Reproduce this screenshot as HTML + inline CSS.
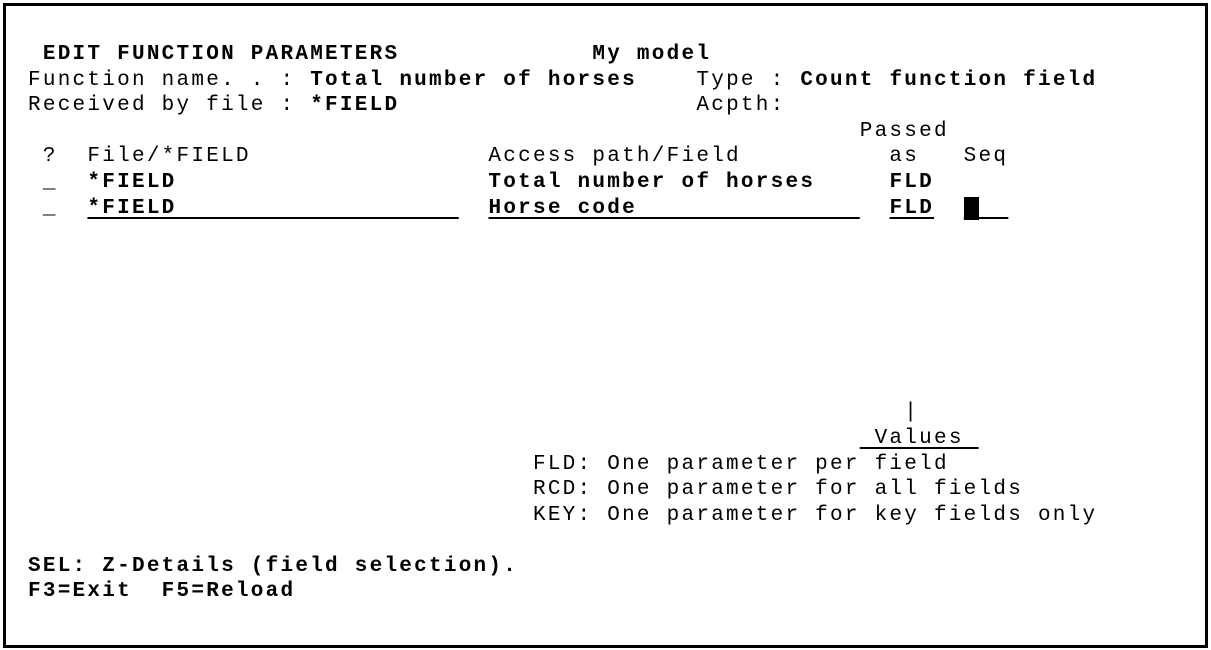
<!DOCTYPE html>
<html><head><meta charset="utf-8"><style>
html,body{margin:0;padding:0;background:#fff;}
body{width:1211px;height:650px;position:relative;overflow:hidden;}
.frame{position:absolute;left:3px;top:3px;width:1199px;height:639px;border:3px solid #000;}
pre{position:absolute;left:28px;top:42px;margin:0;font-family:"Liberation Mono",monospace;font-size:21px;letter-spacing:2.25px;line-height:25.6px;color:#000;}
b{font-weight:bold;}
u{text-decoration:underline;text-decoration-thickness:2px;text-underline-offset:4px;}
.cur{background:#000;}
</style></head><body>
<div class="frame"></div>
<pre><b> EDIT FUNCTION PARAMETERS             My model</b>
Function name. . : <b>Total number of horses</b>    Type : <b>Count function field</b>
Received by file : <b>*FIELD</b>                    Acpth:
                                                        Passed
 ?  File/*FIELD                Access path/Field          as   Seq
 _  <b>*FIELD                     Total number of horses</b>     <b>FLD</b>
 _  <u><b>*FIELD</b>                   </u>  <u><b>Horse code</b>               </u>  <u><b>FLD</b></u>  <u><span class="cur"> </span>  </u>







                                                           |
                                                        <u> Values </u>
                                  FLD: One parameter per field
                                  RCD: One parameter for all fields
                                  KEY: One parameter for key fields only

<b>SEL: Z-Details (field selection).</b>
<b>F3=Exit  F5=Reload</b></pre>
</body></html>
